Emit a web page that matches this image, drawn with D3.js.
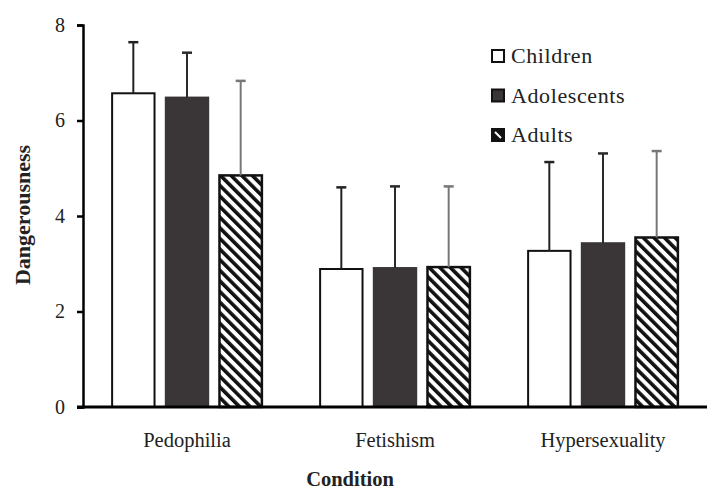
<!DOCTYPE html>
<html lang="en">
<head>
<meta charset="UTF-8">
<title>Dangerousness</title>
<script src="https://d3js.org/d3.v7.min.js"></script>
<style>
body { margin: 0; background: #fff; }
svg { display: block; }
text { font-family: "Liberation Serif", "DejaVu Serif", serif; fill: #222; }
.title { font-weight: bold; }
</style>
</head>
<body>
<script>
const conditions = ["Pedophilia", "Fetishism", "Hypersexuality"]
const groups = ["Children", "Adolescents", "Adults"]
const means = {
    Children:    [6.57, 2.89, 3.27],
    Adolescents: [6.48, 2.91, 3.43],
    Adults:      [4.85, 2.93, 3.55]
}
const sds = {
    Children:    [1.07, 1.71, 1.86],
    Adolescents: [0.94, 1.71, 1.88],
    Adults:      [1.98, 1.69, 1.81]
}
const yTicks = [0, 2, 4, 6, 8]

const width = 720, height = 501
const margin = {left: 83, right: 13, top: 25, bottom: 94}

const svg = d3.select("body").append("svg")
    .attr("width", width).attr("height", height)

// hatch for adults, stripes running top-left to bottom-right
const defs = svg.append("defs")
const pat = defs.append("pattern")
    .attr("id", "hatch")
    .attr("patternUnits", "userSpaceOnUse")
    .attr("width", 7.5).attr("height", 7.5)
    .attr("patternTransform", "rotate(-45)")
pat.append("rect").attr("width", 7.5).attr("height", 7.5).attr("fill", "#fff")
pat.append("rect").attr("width", 3.6).attr("height", 7.5).attr("fill", "#111")

const fills = {Children: "#fff", Adolescents: "#3a3536", Adults: "url(#hatch)"}
const errColor = {Children: "#222", Adolescents: "#2a2a2a", Adults: "#777"}

const x0 = d3.scaleBand()
    .domain(conditions)
    .range([margin.left, width - margin.right])
    .paddingInner(0.28).paddingOuter(0.14)
const x1 = d3.scaleBand()
    .domain(groups)
    .range([0, x0.bandwidth()])
    .paddingInner(0.21)
const y = d3.scaleLinear()
    .domain([0, 8])
    .range([height - margin.bottom, margin.top])

const rows = []
conditions.forEach((c, i) => {
    groups.forEach(g => {
        rows.push({cond: c, group: g, mean: means[g][i], sd: sds[g][i]})
    })
})

const bars = svg.append("g")
bars.selectAll("rect")
    .data(rows)
    .enter()
    .append("rect")
    .attr("x", d => x0(d.cond) + x1(d.group))
    .attr("y", d => y(d.mean))
    .attr("width", x1.bandwidth())
    .attr("height", d => y(0) - y(d.mean))
    .attr("fill", d => fills[d.group])
    .attr("stroke", d => d.group == "Adolescents" ? "#3a3536" : "#111")
    .attr("stroke-width", d => d.group == "Adults" ? 2.5 : 2)

// error bars, upper half only
const err = svg.append("g")
err.selectAll("line.v")
    .data(rows)
    .enter()
    .append("line")
    .attr("class", "v")
    .attr("x1", d => x0(d.cond) + x1(d.group) + x1.bandwidth() / 2)
    .attr("x2", d => x0(d.cond) + x1(d.group) + x1.bandwidth() / 2)
    .attr("y1", d => y(d.mean))
    .attr("y2", d => y(d.mean + d.sd))
    .attr("stroke", d => errColor[d.group])
    .attr("stroke-width", 2)
err.selectAll("line.cap")
    .data(rows)
    .enter()
    .append("line")
    .attr("class", "cap")
    .attr("x1", d => x0(d.cond) + x1(d.group) + x1.bandwidth() / 2 - 5)
    .attr("x2", d => x0(d.cond) + x1(d.group) + x1.bandwidth() / 2 + 5)
    .attr("y1", d => y(d.mean + d.sd))
    .attr("y2", d => y(d.mean + d.sd))
    .attr("stroke", d => errColor[d.group])
    .attr("stroke-width", 2.5)

// axes
const yAxis = svg.append("g")
    .attr("transform", `translate(${margin.left},0)`)
    .call(d3.axisLeft(y).tickValues(yTicks).tickSize(6).tickPadding(12))
yAxis.select(".domain").attr("stroke", "#000").attr("stroke-width", 2.5)
yAxis.selectAll(".tick line").attr("stroke", "#000").attr("stroke-width", 2.5)
yAxis.selectAll("text").style("font-size", "20px").attr("fill", "#333")
    .style("font-family", "\"Liberation Serif\", serif")

const xAxis = svg.append("g")
    .attr("transform", `translate(0,${y(0)})`)
    .call(d3.axisBottom(x0).tickSize(0).tickPadding(25))
xAxis.select(".domain").attr("stroke", "#000").attr("stroke-width", 3)
    .attr("d", `M${margin.left - 6},0H${width - margin.right}`)
xAxis.selectAll("text").style("font-size", "20.5px").attr("fill", "#222")
    .style("font-family", "\"Liberation Serif\", serif")

svg.append("text")
    .attr("class", "title")
    .attr("x", 350)
    .attr("y", 486)
    .attr("text-anchor", "middle")
    .style("font-size", "20.5px")
    .text("Condition")

svg.append("text")
    .attr("class", "title")
    .attr("transform", `translate(30,${y(4) - 1}) rotate(-90)`)
    .attr("text-anchor", "middle")
    .style("font-size", "22px")
    .text("Dangerousness")

// legend
const legend = svg.append("g").attr("transform", "translate(492,0)")
const ly = d3.scalePoint().domain(groups).range([56, 135])
const li = legend.selectAll("g")
    .data(groups)
    .enter()
    .append("g")
    .attr("transform", d => `translate(0,${ly(d)})`)
li.append("rect")
    .attr("x", 0).attr("y", -6)
    .attr("width", 12).attr("height", 12)
    .attr("fill", d => d == "Adults" ? "#fff" : fills[d])
    .attr("stroke", "#111").attr("stroke-width", 2)
li.filter(d => d == "Adults").append("rect")
    .attr("x", 0).attr("y", -6)
    .attr("width", 12).attr("height", 12)
    .attr("fill", "#111")
li.filter(d => d == "Adults").append("path")
    .attr("d", "M3,-3L9,3")
    .attr("stroke", "#fff").attr("stroke-width", 2)
li.append("text")
    .attr("x", 19).attr("y", 7)
    .style("font-size", "22px")
    .style("letter-spacing", "0.6px")
    .text(d => d)
</script>
</body>
</html>
